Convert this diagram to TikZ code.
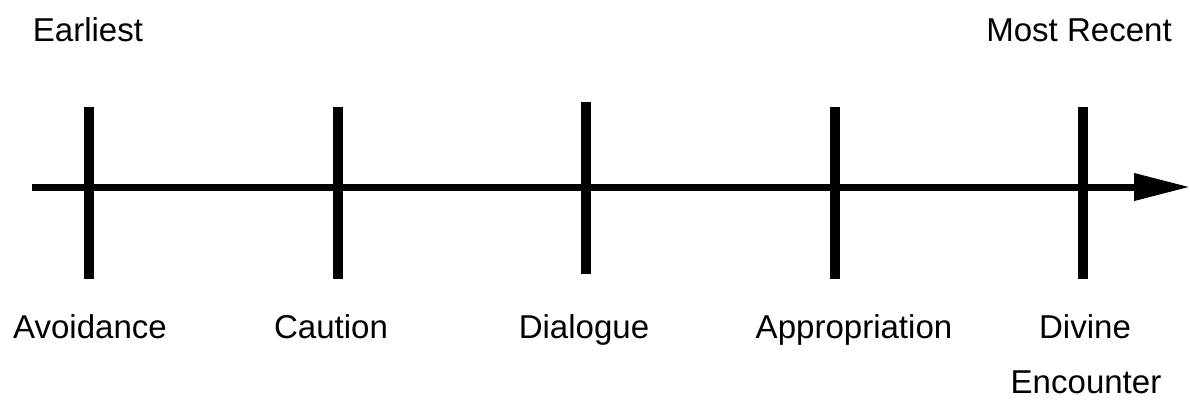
\documentclass[tikz,border=0pt]{standalone}
\usepackage{fontspec}
\setmainfont{Liberation Sans}
\usetikzlibrary{arrows.meta}
\begin{document}
\begin{tikzpicture}[x=0.025cm, y=-0.025cm, every node/.style={font=\fontsize{23.5}{28}\selectfont, anchor=base, inner sep=0pt}]
  \tikzset{axisline/.style={line width=0.175cm, -{Triangle[length=1.4cm, width=0.65cm]}},
    tickmark/.style={line width=0.25cm}}
  \fill[white] (0,0) rectangle (1190,415);
  \useasboundingbox (0,0) rectangle (1190,415);
  % the time axis
  \coordinate (start) at (32,187);
  \coordinate (end) at (1190,187);
  \draw[axisline] (start) -- (end);
  % ticks
  \coordinate (avoidtop) at (89,107);   \coordinate (avoidbot) at (89,279);
  \coordinate (cauttop) at (338,107);   \coordinate (cautbot) at (338,279);
  \coordinate (dialtop) at (586,102);   \coordinate (dialbot) at (586,274);
  \coordinate (approtop) at (835,107);  \coordinate (approbot) at (835,279);
  \coordinate (divtop) at (1083,107);   \coordinate (divbot) at (1083,279);
  \draw[tickmark] (avoidtop) -- (avoidbot);
  \draw[tickmark] (cauttop) -- (cautbot);
  \draw[tickmark] (dialtop) -- (dialbot);
  \draw[tickmark] (approtop) -- (approbot);
  \draw[tickmark] (divtop) -- (divbot);
  % labels
  \node (earliest) at (88,41) {Earliest};
  \node (recent) at (1079,41) {Most Recent};
  \node (avoid) at (90,338) {Avoidance};
  \node (caut) at (331,338) {Caution};
  \node (dial) at (584,338) {Dialogue};
  \node (appro) at (854,338) {Appropriation};
  \node (divine) at (1085,338) {Divine};
  \node (encounter) at (1086,393) {Encounter};
\end{tikzpicture}
\end{document}
